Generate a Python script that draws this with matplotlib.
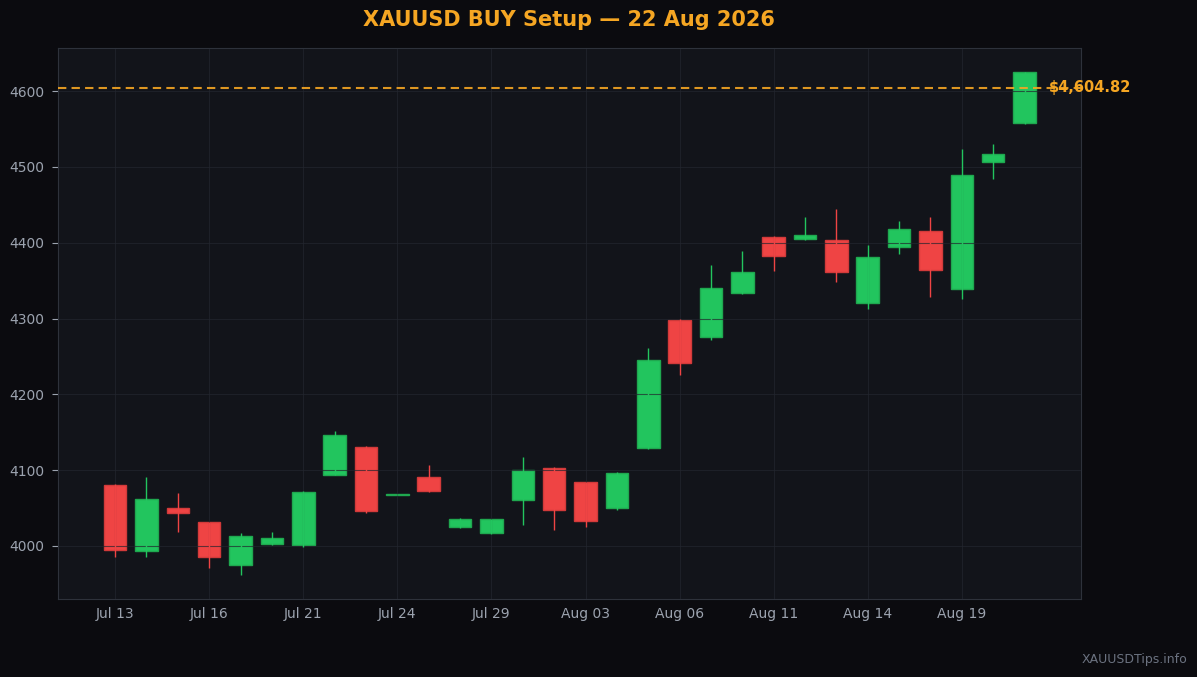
import matplotlib.pyplot as plt
from matplotlib.patches import Rectangle

dates = ["Jul 13", "Jul 14", "Jul 15", "Jul 16", "Jul 17", "Jul 20", "Jul 21", "Jul 22",
         "Jul 23", "Jul 24", "Jul 27", "Jul 28", "Jul 29", "Jul 30", "Jul 31", "Aug 03",
         "Aug 04", "Aug 05", "Aug 06", "Aug 07", "Aug 10", "Aug 11", "Aug 12", "Aug 13",
         "Aug 14", "Aug 17", "Aug 18", "Aug 19", "Aug 20", "Aug 21"]
opens = [4081, 3994, 4050, 4031, 3975, 4002, 4001, 4094, 4130, 4067, 4091, 4025, 4017, 4060,
         4103, 4084, 4050, 4129, 4298, 4276, 4334, 4408, 4405, 4404, 4321, 4394, 4415, 4339,
         4506, 4558]
highs = [4082, 4091, 4070, 4032, 4017, 4018, 4072, 4152, 4132, 4068, 4107, 4037, 4036, 4118,
         4104, 4085, 4097, 4261, 4299, 4371, 4389, 4409, 4434, 4444, 4397, 4429, 4434, 4524,
         4530, 4625]
lows = [3985, 3985, 4018, 3971, 3962, 4001, 3998, 4093, 4044, 4067, 4071, 4024, 4016, 4027,
        4021, 4025, 4047, 4128, 4226, 4272, 4333, 4363, 4404, 4348, 4312, 4385, 4328, 4326,
        4484, 4557]
closes = [3995, 4062, 4043, 3986, 4013, 4010, 4071, 4147, 4046, 4068, 4073, 4036, 4035, 4100,
          4048, 4033, 4096, 4246, 4241, 4341, 4362, 4382, 4410, 4362, 4381, 4418, 4364, 4490,
          4517, 4625]
entry_price = 4604.82
title = "XAUUSD BUY Setup \u2014 22 Aug 2026"

BG = "#0b0b0f"
AX_BG = "#12141a"
GREEN, GREEN_EDGE = "#22c55e", "#1fa84f"
RED, RED_EDGE = "#ef4444", "#d23a3a"
ORANGE = "#f5a623"
TXT = "#9ca3af"

fig = plt.figure(figsize=(11.97, 6.77), dpi=100, facecolor=BG)
ax = fig.add_axes([0.0485, 0.1152, 0.8546, 0.8139], facecolor=AX_BG)

width = 0.72
for i, (o, h, l, c) in enumerate(zip(opens, highs, lows, closes)):
    up = c >= o
    col = GREEN if up else RED
    edge = GREEN_EDGE if up else RED_EDGE
    ax.vlines(i, l, h, color=col, lw=1.0, zorder=2)
    lo, hi = min(o, c), max(o, c)
    ax.add_patch(Rectangle((i - width / 2, lo), width, max(hi - lo, 1.2),
                           facecolor=col, edgecolor=edge, lw=1.0, zorder=1))

ax.axhline(entry_price, color=ORANGE, ls=(0, (4, 2.5)), lw=1.5, alpha=0.9, zorder=3)
ax.text(29.78, entry_price, f"${entry_price:,.2f}", color=ORANGE, fontsize=10.5,
        fontweight="bold", ha="left", va="center", zorder=4, clip_on=False)

ax.set_xlim(-1.82, 30.8)
ax.set_ylim(3930, 4657)
ticks = list(range(0, len(dates), 3))
ax.set_xticks(ticks)
ax.set_xticklabels([dates[t] for t in ticks])
ax.set_yticks([4000, 4100, 4200, 4300, 4400, 4500, 4600])
ax.grid(color="#23262e", lw=0.8, alpha=0.7)
ax.tick_params(colors=TXT, labelsize=10, length=4, pad=6)
ax.tick_params(axis="x", length=0, pad=6)
for s in ax.spines.values():
    s.set_color("#2e323b")

fig.text(0.475, 0.97, title, color=ORANGE, fontsize=15, fontweight="bold",
         ha="center", va="center")
fig.text(0.992, 0.026, "XAUUSDTips.info", color="#6b7280", fontsize=9,
         ha="right", va="center")

fig.savefig("out.png", dpi=100, facecolor=BG)
